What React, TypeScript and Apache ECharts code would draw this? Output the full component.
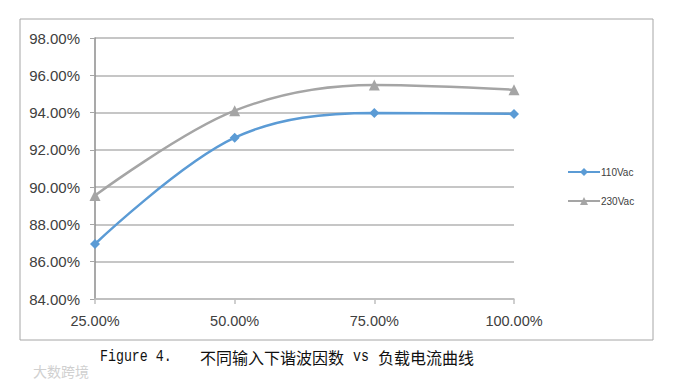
import React, { useEffect, useRef } from "react";
import * as echarts from "echarts";

const categories = ["25.00%", "50.00%", "75.00%", "100.00%"];
const series110 = [86.95, 92.65, 93.98, 93.93];
const series230 = [89.55, 94.1, 95.48, 95.22];
const seriesNames = ["110Vac", "230Vac"];
const captionLabel = "Figure 4.";
const captionCn1 = "不同输入下谐波因数";
const captionMid = "vs";
const captionCn2 = "负载电流曲线";
const watermark = "大数跨境";

export default function App() {
  const ref = useRef<HTMLDivElement>(null);
  useEffect(() => {
    if (!ref.current) return;
    const chart = echarts.init(ref.current, undefined, { renderer: "svg" });
    const labelFont = "'Liberation Sans', 'Open Sans', sans-serif";
    const mono = "'Liberation Mono', 'DejaVu Sans Mono', monospace";
    const cjk = "'Noto Sans CJK SC', sans-serif";
    const capY = 357;
    chart.setOption({
      animation: false,
      backgroundColor: "#ffffff",
      grid: { left: 95, right: 172, top: 38, bottom: 83 },
      legend: {
        orient: "vertical",
        left: 567,
        top: 167,
        padding: 0,
        itemGap: 19,
        itemWidth: 32,
        itemHeight: 10,
        textStyle: { fontSize: 10, color: "#404040", fontFamily: labelFont, padding: [0, 0, 0, -4] },
        data: seriesNames,
      },
      xAxis: {
        type: "category",
        data: categories,
        boundaryGap: false,
        axisLine: { lineStyle: { color: "#bfbfbf", width: 1.5 } },
        axisTick: { show: true, length: 5, inside: false, lineStyle: { color: "#bfbfbf", width: 1.5 } },
        axisLabel: { fontSize: 14.5, color: "#404040", fontFamily: labelFont, margin: 14 },
        splitLine: { show: false },
      },
      yAxis: {
        type: "value",
        min: 84,
        max: 98,
        interval: 2,
        axisLine: { show: true, lineStyle: { color: "#8c8c8c", width: 1.5 } },
        axisTick: { show: true, length: 5, lineStyle: { color: "#a6a6a6" } },
        axisLabel: {
          fontSize: 15,
          color: "#404040",
          fontFamily: labelFont,
          margin: 15,
          formatter: (v: number) => v.toFixed(2) + "%",
        },
        splitLine: { lineStyle: { color: "#b3b3b3", width: 1.5 } },
      },
      series: [
        {
          name: seriesNames[0],
          type: "line",
          data: series110,
          smooth: 0.35,
          symbol: "diamond",
          symbolSize: 10,
          lineStyle: { color: "#5b9bd5", width: 2.5 },
          itemStyle: { color: "#5b9bd5" },
        },
        {
          name: seriesNames[1],
          type: "line",
          data: series230,
          smooth: 0.35,
          symbol: "triangle",
          symbolSize: 11,
          lineStyle: { color: "#a5a5a5", width: 2.5 },
          itemStyle: { color: "#a5a5a5" },
        },
      ],
      graphic: [
        {
          type: "rect",
          shape: { x: 20, y: 19, width: 633, height: 321 },
          style: { fill: "none", stroke: "#a6a6a6", lineWidth: 1 },
          z: -1,
        },
        {
          type: "text",
          x: 100,
          y: capY,
          scaleX: 0.83,
          style: { text: captionLabel, fontSize: 16, fontFamily: mono, fill: "#111111", verticalAlign: "middle" },
        },
        {
          type: "text",
          x: 200,
          y: capY,
          style: { text: captionCn1, fontSize: 16, fontFamily: cjk, fill: "#111111", verticalAlign: "middle" },
        },
        {
          type: "text",
          x: 353,
          y: capY,
          scaleX: 0.83,
          style: { text: captionMid, fontSize: 16, fontFamily: mono, fill: "#111111", verticalAlign: "middle" },
        },
        {
          type: "text",
          x: 378,
          y: capY,
          style: { text: captionCn2, fontSize: 16, fontFamily: cjk, fill: "#111111", verticalAlign: "middle" },
        },
        {
          type: "text",
          x: 33,
          y: 371,
          style: { text: watermark, fontSize: 14, fontFamily: cjk, fill: "#d0d0d0", verticalAlign: "middle" },
        },
      ],
    });
    return () => chart.dispose();
  }, []);
  return <div ref={ref} style={{ width: 686, height: 382, position: "absolute", left: 0, top: 0 }} />;
}
